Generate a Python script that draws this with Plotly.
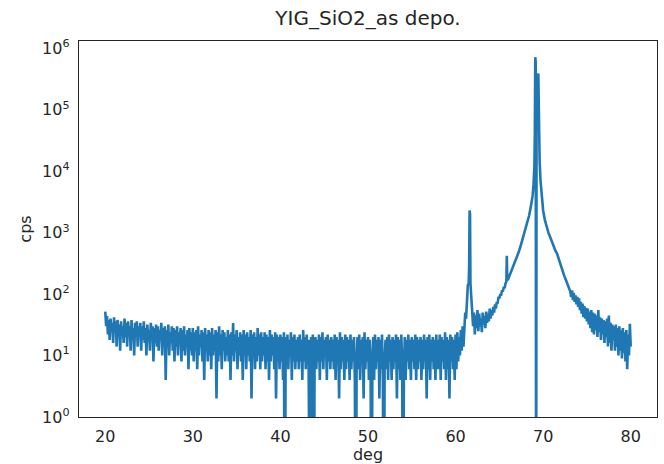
import numpy as np
import plotly.graph_objects as go

title = "YIG_SiO2_as depo."
x_label = "deg"
y_label = "cps"

# background scan, 20.0 - 60.9 deg in 0.1 deg steps
bg_start = 20.0
bg_step = 0.1
bg_cps = [
    52, 30, 44, 22, 38, 18, 40, 26, 34, 16, 42, 24, 36, 14, 38, 20, 32, 12, 36, 22,
    30, 16, 40, 20, 34, 14, 36, 24, 30, 12, 38, 18, 28, 10, 34, 20, 36, 14, 30, 22,
    34, 12, 30, 18, 36, 16, 28, 10, 32, 20, 26, 12, 34, 18, 30, 8, 28, 16, 32, 14,
    30, 12, 26, 18, 34, 10, 28, 16, 30, 4, 26, 14, 32, 10, 24, 16, 30, 12, 28, 8,
    26, 14, 30, 10, 24, 16, 28, 8, 26, 12, 30, 10, 22, 14, 26, 6, 28, 12, 24, 10,
    28, 8, 24, 12, 26, 6, 30, 10, 22, 14, 26, 8, 24, 4, 28, 12, 22, 8, 26, 10,
    24, 6, 28, 10, 22, 12, 26, 2, 24, 8, 30, 10, 22, 6, 26, 12, 24, 8, 20, 10,
    26, 8, 22, 4, 24, 10, 34, 8, 22, 12, 26, 6, 20, 10, 24, 8, 22, 4, 26, 10,
    22, 6, 24, 10, 20, 8, 26, 2, 22, 10, 24, 6, 20, 8, 28, 10, 22, 6, 24, 8,
    20, 10, 24, 6, 22, 8, 20, 4, 26, 8, 22, 10, 20, 6, 24, 2, 22, 8, 20, 6,
    22, 8, 20, 4, 24, 0, 20, 8, 22, 6, 18, 10, 24, 4, 20, 8, 22, 6, 18, 8,
    20, 6, 22, 8, 18, 4, 26, 8, 20, 6, 22, 8, 18, 2, 0, 20, 6, 22, 0, 8,
    20, 6, 18, 8, 22, 4, 20, 8, 24, 6, 18, 10, 20, 4, 22, 8, 18, 6, 20, 8,
    18, 6, 22, 4, 20, 8, 18, 2, 24, 6, 20, 8, 18, 4, 22, 6, 20, 8, 18, 4,
    22, 6, 18, 8, 20, 4, 0, 8, 20, 6, 22, 4, 18, 8, 20, 2, 24, 6, 18, 8,
    20, 4, 18, 6, 0, 8, 20, 4, 22, 6, 18, 8, 20, 2, 18, 6, 22, 4, 0, 8,
    18, 6, 20, 4, 22, 8, 18, 4, 20, 6, 18, 8, 22, 2, 20, 6, 18, 4, 22, 8,
    0, 6, 20, 4, 18, 8, 22, 6, 18, 4, 20, 8, 18, 6, 22, 4, 20, 6, 18, 8,
    20, 4, 18, 6, 22, 8, 18, 2, 20, 6, 22, 4, 18, 8, 20, 6, 18, 4, 22, 6,
    18, 6, 22, 4, 20, 8, 18, 6, 24, 4, 20, 6, 18, 2, 22, 8, 20, 6, 18, 4,
    22, 6, 24, 8, 20, 10, 26, 12, 30, 14,
]

# film / substrate peak region, 61 - 80 deg
pk_deg = [
    61.0, 61.1, 61.2, 61.3, 61.4, 61.5, 61.55, 61.6, 61.65, 61.7, 61.8, 61.9,
    62.0, 62.1, 62.2, 62.3, 62.4, 62.5, 62.6, 62.7, 62.8, 62.9,
    63.0, 63.1, 63.2, 63.3, 63.4, 63.5, 63.6, 63.7, 63.8, 63.9,
    64.0, 64.1, 64.2, 64.3, 64.4, 64.5, 64.6, 64.7, 64.8, 64.9,
    65.0, 65.1, 65.2, 65.3, 65.4, 65.5, 65.6, 65.7, 65.8, 65.85, 65.9,
    66.0, 66.1, 66.2, 66.3, 66.4, 66.5, 66.6, 66.7, 66.8, 66.9,
    67.0, 67.2, 67.4, 67.6, 67.8, 68.0, 68.2, 68.4, 68.6, 68.8, 68.9,
    69.0, 69.05, 69.1, 69.15, 69.2, 69.25, 69.35, 69.45, 69.5, 69.55, 69.6, 69.7, 69.8, 69.9,
    70.0, 70.2, 70.4, 70.6, 70.8, 71.0, 71.2, 71.4, 71.6, 71.8,
    72.0, 72.2, 72.4, 72.6, 72.8, 73.0,
    73.1, 73.2, 73.3, 73.4, 73.5, 73.6, 73.7, 73.8, 73.9,
    74.0, 74.1, 74.2, 74.3, 74.4, 74.5, 74.6, 74.7, 74.8, 74.9,
    75.0, 75.1, 75.2, 75.3, 75.4, 75.5, 75.6, 75.7, 75.8, 75.9,
    76.0, 76.1, 76.2, 76.3, 76.4, 76.5, 76.6, 76.7, 76.8, 76.9,
    77.0, 77.1, 77.2, 77.3, 77.4, 77.5, 77.6, 77.7, 77.8, 77.9,
    78.0, 78.1, 78.2, 78.3, 78.4, 78.5, 78.6, 78.7, 78.8, 78.9,
    79.0, 79.1, 79.2, 79.3, 79.4, 79.5, 79.6, 79.7, 79.8, 79.9, 80.0,
]
pk_cps = [
    30, 50, 40, 90, 140, 150, 300, 2300, 2000, 150, 90, 55,
    30, 50, 22, 45, 28, 55, 25, 48, 30, 40,
    24, 50, 32, 44, 28, 52, 34, 48, 36, 58,
    40, 55, 45, 62, 50, 68, 58, 75, 70, 90,
    85, 100, 95, 115, 110, 130, 125, 150, 160, 420, 170,
    175, 190, 205, 230, 245, 260, 285, 310, 330, 360,
    400, 480, 590, 740, 920, 1150, 1450, 1900, 2700, 4000, 6000,
    12000, 40000, 720000, 600000, 0, 350000, 330000, 390000, 120000, 30000, 14000, 7000, 4500, 3000,
    2300, 1600, 1200, 1000, 850, 700, 600, 510, 450, 360,
    300, 240, 200, 170, 140, 120,
    110, 90, 115, 80, 105, 75, 95, 68, 90,
    62, 85, 55, 75, 48, 70, 42, 64, 40, 60,
    36, 58, 32, 52, 28, 55, 24, 50, 22, 48,
    26, 45, 20, 55, 24, 42, 18, 40, 22, 38,
    16, 36, 20, 40, 14, 45, 16, 34, 12, 32,
    18, 30, 12, 32, 14, 28, 10, 30, 12, 26,
    9, 28, 11, 24, 8, 26, 6, 22, 10, 33, 14,
]

x_ticks = [20, 30, 40, 50, 60, 70, 80]
y_tick_exps = [0, 1, 2, 3, 4, 5, 6]

bg_deg = bg_start + bg_step * np.arange(len(bg_cps))
deg = np.concatenate([np.round(bg_deg, 2), np.array(pk_deg)])
cps = np.concatenate([np.array(bg_cps, float), np.array(pk_cps, float)])
# zero counts drop below the log axis (clipped at the frame)
cps_plot = np.where(cps > 0, cps, 1e-3)

ink = "#262626"
fig = go.Figure(go.Scatter(
    x=deg, y=cps_plot, mode="lines",
    line=dict(color="#1f77b4", width=2.6),
    hoverinfo="skip",
))

fig.update_layout(
    width=664, height=464,
    margin=dict(l=79, r=7, t=41, b=47, autoexpand=False),
    paper_bgcolor="white", plot_bgcolor="white",
    font=dict(family="DejaVu Sans", size=16, color=ink),
    showlegend=False,
    title=dict(text=title, x=0.5, xref="paper", xanchor="center",
               y=1, yref="paper", yanchor="bottom", pad=dict(b=16),
               font=dict(size=20, color=ink)),
)
fig.update_xaxes(
    range=[17, 83], tickvals=x_ticks, ticktext=[str(t) for t in x_ticks],
    automargin=False,
    showgrid=False, zeroline=False, showline=True, mirror=True,
    linecolor=ink, linewidth=1.3,
    ticks="outside", ticklen=4, tickcolor="rgba(0,0,0,0)",
    tickfont=dict(size=16),
    title=dict(text=x_label, standoff=2, font=dict(size=16)),
)
fig.update_yaxes(
    type="log", range=[0, 6.12],
    tickvals=[10 ** e for e in y_tick_exps],
    ticktext=["10<sup>%d</sup>" % e for e in y_tick_exps],
    automargin=False,
    showgrid=False, zeroline=False, showline=True, mirror=True,
    linecolor=ink, linewidth=1.3,
    ticks="outside", ticklen=5, tickcolor="rgba(0,0,0,0)",
    tickfont=dict(size=16),
    title=dict(text=y_label, standoff=6, font=dict(size=16)),
)

fig.write_html(
    "out.html",
    config={"displayModeBar": False, "staticPlot": True},
    post_script="document.body.style.margin='0';document.body.style.overflow='hidden';",
)
